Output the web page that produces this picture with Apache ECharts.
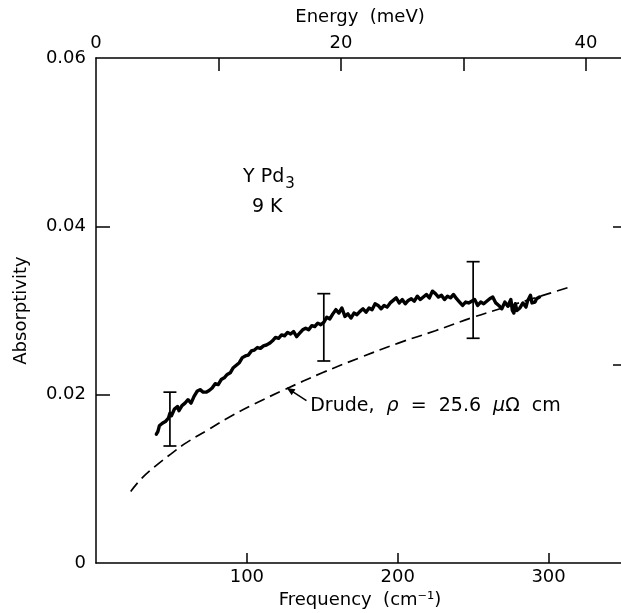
<!DOCTYPE html>
<html>
<head>
<meta charset="utf-8">
<script src="https://cdn.jsdelivr.net/npm/echarts@6/dist/echarts.min.js"></script>
<style>
html,body{margin:0;padding:0;background:#fff;}
#chart{width:621px;height:613px;}
</style>
</head>
<body>
<div id="chart"></div>
<script>
// ---- data ----
const freqTicks = [100, 200, 300];
const energyTicks = [10, 20, 30, 40];
const energyLabels = [0, 20, 40];
const absTicks = [0.02, 0.04];
const absLabels = [0, 0.02, 0.04, 0.06];
const rightTicks = [0.0235, 0.04];

// measured absorptivity, YPd3 at 9 K: [frequency cm^-1, absorptivity]
const measured = [
[40,0.0153],[41,0.0156],[42,0.0163],[44,0.0166],[46,0.0168],[48,0.0172],[49,0.0178],[50,0.0175],
[52,0.0183],[54,0.0186],[55,0.0181],[57,0.0187],[59,0.0190],[61,0.0194],[63,0.0190],[65,0.0198],
[67,0.0204],[69,0.0206],[71,0.0203],[73,0.0203],[75,0.0205],[77,0.0208],[79,0.0213],[81,0.0212],
[83,0.0218],[85,0.0220],[87,0.0224],[89,0.0226],[91,0.0232],[93,0.0235],[95,0.0238],[97,0.0244],
[99,0.0246],[101,0.0247],[103,0.0252],[105,0.0253],[107,0.0256],[109,0.0255],[111,0.0258],[113,0.0259],
[115,0.0261],[117,0.0264],[119,0.0268],[121,0.0267],[123,0.0271],[125,0.0270],[127,0.0274],[129,0.0272],
[131,0.0275],[133,0.0269],[135,0.0273],[137,0.0277],[139,0.0279],[141,0.0277],[143,0.0282],[145,0.0281],
[147,0.0285],[149,0.0283],[151,0.0286],[153,0.0292],[155,0.0290],[157,0.0296],[159,0.0301],[161,0.0297],
[163,0.0303],[165,0.0293],[167,0.0296],[169,0.0291],[171,0.0297],[173,0.0295],[175,0.0299],[177,0.0302],
[179,0.0298],[181,0.0303],[183,0.0301],[185,0.0308],[187,0.0306],[189,0.0302],[191,0.0306],[193,0.0304],
[195,0.0309],[197,0.0312],[199,0.0315],[201,0.0309],[203,0.0313],[205,0.0308],[207,0.0312],[209,0.0314],
[211,0.0311],[213,0.0317],[215,0.0313],[217,0.0316],[219,0.0319],[221,0.0315],[223,0.0323],[225,0.0320],
[227,0.0316],[229,0.0318],[231,0.0313],[233,0.0317],[235,0.0315],[237,0.0319],[239,0.0314],[241,0.0310],
[243,0.0306],[245,0.0310],[247,0.0309],[249,0.0311],[251,0.0313],[253,0.0306],[255,0.0310],[257,0.0308],
[259,0.0311],[261,0.0314],[263,0.0316],[265,0.0309],[267,0.0306],[269,0.0302],[271,0.0310],[273,0.0305],
[275,0.0313],[276,0.0300],[277,0.0297],[278,0.0308],[279,0.0300],[281,0.0303],[283,0.0309],[285,0.0304],
[286,0.0311],[288,0.0318],[289,0.0309],[291,0.0310],[292,0.0314],[294,0.0316]
];

// Drude curve, rho = 25.6 microohm cm
const drude = [
[23,0.0085],[30,0.0100],[40,0.0116],[50,0.0130],[60,0.0143],[75,0.0159],[90,0.0175],[105,0.0189],
[125,0.0206],[150,0.0226],[175,0.0244],[200,0.0261],[225,0.0276],[250,0.0292],[275,0.0306],
[300,0.0320],[316,0.0329]
];

// error bars: frequency, low, high
const errX = [49, 151, 250];
const errLow = [0.0139, 0.0240, 0.0267];
const errHigh = [0.0203, 0.0320, 0.0358];

const FONT = 'DejaVu Sans';
const FS = 18;
const chart = echarts.init(document.getElementById('chart'), null, {renderer: 'canvas'});

const axisLineStyle = {color: '#000', width: 1.5};
const labelStyle = {color: '#000', fontFamily: FONT, fontSize: FS};

const option = {
  animation: false,
  backgroundColor: '#fff',
  grid: {left: 96, top: 58, width: 528, height: 505, containLabel: false, outerBoundsMode: 'none'},
  xAxis: [
    {
      type: 'value', position: 'bottom', min: 0, max: 350,
      axisLine: {show: true, onZero: false, lineStyle: axisLineStyle},
      axisTick: {show: true, inside: true, length: 10, lineStyle: axisLineStyle, customValues: freqTicks},
      axisLabel: Object.assign({margin: 5, customValues: freqTicks}, labelStyle),
      splitLine: {show: false},
      name: 'Frequency  (cm⁻¹)', nameLocation: 'middle', nameGap: 28,
      nameTextStyle: labelStyle
    },
    {
      type: 'value', position: 'top', min: 0, max: 43.1,
      axisLine: {show: true, onZero: false, lineStyle: axisLineStyle},
      axisTick: {show: true, inside: true, length: 13, lineStyle: axisLineStyle, customValues: energyTicks},
      axisLabel: Object.assign({margin: 6, customValues: energyLabels}, labelStyle),
      splitLine: {show: false},
      name: 'Energy  (meV)', nameLocation: 'middle', nameGap: 32,
      nameTextStyle: labelStyle
    }
  ],
  yAxis: [
    {
      type: 'value', position: 'left', min: 0, max: 0.06,
      axisLine: {show: true, onZero: false, lineStyle: axisLineStyle},
      axisTick: {show: true, inside: true, length: 14, lineStyle: axisLineStyle, customValues: absTicks},
      axisLabel: Object.assign({margin: 10, customValues: absLabels,
        formatter: v => (v === 0 ? '0' : v.toFixed(2))}, labelStyle),
      splitLine: {show: false},
      name: 'Absorptivity', nameLocation: 'middle', nameGap: 66, nameRotate: 90,
      nameTextStyle: labelStyle
    },
    {
      type: 'value', position: 'right', min: 0, max: 0.06,
      axisLine: {show: true, onZero: false, lineStyle: axisLineStyle},
      axisTick: {show: true, inside: true, length: 11, lineStyle: axisLineStyle, customValues: rightTicks},
      axisLabel: {show: false},
      splitLine: {show: false}
    }
  ],
  series: [
    {
      type: 'line', data: drude, smooth: 0.4, symbol: 'none',
      lineStyle: {color: '#000', width: 1.7, type: [11, 6]}
    },
    {
      type: 'line', data: measured, symbol: 'none',
      lineStyle: {color: '#000', width: 3.4, join: 'round', cap: 'round'}
    },
    {
      type: 'custom',
      data: errX.map((x, i) => [x, errLow[i], errHigh[i]]),
      renderItem: function (params, api) {
        const x = api.value(0), lo = api.value(1), hi = api.value(2);
        const p1 = api.coord([x, hi]);
        const p2 = api.coord([x, lo]);
        const w = 6.5;
        const st = {stroke: '#000', lineWidth: 1.7};
        return {
          type: 'group', children: [
            {type: 'line', shape: {x1: p1[0], y1: p1[1], x2: p2[0], y2: p2[1]}, style: st},
            {type: 'line', shape: {x1: p1[0] - w, y1: p1[1], x2: p1[0] + w, y2: p1[1]}, style: st},
            {type: 'line', shape: {x1: p2[0] - w, y1: p2[1], x2: p2[0] + w, y2: p2[1]}, style: st}
          ]
        };
      },
      z: 5
    }
  ]
};
chart.setOption(option);

// annotations placed in data coordinates
function px(x, y) { return chart.convertToPixel({xAxisIndex: 0, yAxisIndex: 0}, [x, y]); }
const mctx = document.createElement('canvas').getContext('2d');
mctx.font = '19px "' + FONT + '"';
const wYPd = mctx.measureText('Y Pd').width;
const tY = px(97.5, 0.0459);
const t9 = px(113.5, 0.0423);
const tD = px(142, 0.01864);
const aTail = px(139.5, 0.0193);
const aTip = px(126.5, 0.0208);
const ang = Math.atan2(aTip[1] - aTail[1], aTip[0] - aTail[0]);
const hl = 8, hw = 3.5;
const head = [
  [aTip[0], aTip[1]],
  [aTip[0] - hl * Math.cos(ang) + hw * Math.sin(ang), aTip[1] - hl * Math.sin(ang) - hw * Math.cos(ang)],
  [aTip[0] - hl * Math.cos(ang) - hw * Math.sin(ang), aTip[1] - hl * Math.sin(ang) + hw * Math.cos(ang)]
];
chart.setOption({
  graphic: [
    {type: 'text', x: tY[0], y: tY[1], style: {text: 'Y Pd', font: '19px "DejaVu Sans"', fill: '#000', textAlign: 'left', textVerticalAlign: 'middle'}},
    {type: 'text', x: tY[0] + wYPd + 1, y: tY[1] + 7, style: {text: '3', font: '15px "DejaVu Sans"', fill: '#000', textAlign: 'left', textVerticalAlign: 'middle'}},
    {type: 'text', x: t9[0], y: t9[1], style: {text: '9 K', font: '19px "DejaVu Sans"', fill: '#000', textAlign: 'center', textVerticalAlign: 'middle'}},
    {type: 'text', x: tD[0], y: tD[1], style: {
      text: '{a|Drude,  }{g|ρ}{a|  =  25.6  }{g|μ}{a|Ω  cm}',
      textAlign: 'left', textVerticalAlign: 'middle', fill: '#000',
      rich: {
        a: {fontFamily: FONT, fontSize: 19, color: '#000'},
        g: {fontFamily: FONT, fontSize: 19, fontStyle: 'italic', color: '#000'}
      }
    }},
    {type: 'line', shape: {x1: aTail[0], y1: aTail[1], x2: aTip[0], y2: aTip[1]}, style: {stroke: '#000', lineWidth: 1.5}},
    {type: 'polygon', shape: {points: head}, style: {fill: '#000'}}
  ]
});
</script>
</body>
</html>
